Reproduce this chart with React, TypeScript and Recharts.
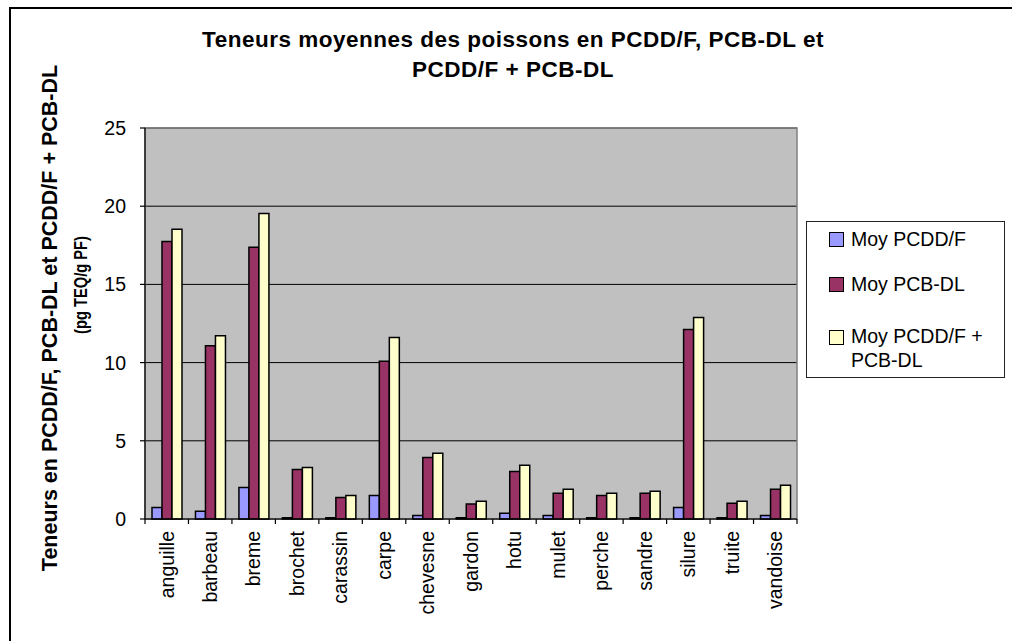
import {
  Bar,
  BarChart,
  CartesianGrid,
  Legend,
  ReferenceArea,
  XAxis,
  YAxis,
} from "recharts";

const categories = [
  "anguille",
  "barbeau",
  "breme",
  "brochet",
  "carassin",
  "carpe",
  "chevesne",
  "gardon",
  "hotu",
  "mulet",
  "perche",
  "sandre",
  "silure",
  "truite",
  "vandoise",
];
const moyPcdd = [0.74, 0.49, 2.02, 0.08, 0.08, 1.51, 0.23, 0.08, 0.36, 0.23, 0.08, 0.08, 0.74, 0.08, 0.23];
const moyPcb = [17.75, 11.08, 17.37, 3.17, 1.38, 10.08, 3.94, 0.96, 3.04, 1.64, 1.51, 1.64, 12.12, 1.0, 1.9];
const moyTotal = [18.52, 11.72, 19.54, 3.3, 1.51, 11.6, 4.2, 1.13, 3.43, 1.9, 1.64, 1.77, 12.89, 1.13, 2.15];
const yTicks = [0, 5, 10, 15, 20, 25];

const seriesNames = ["Moy PCDD/F", "Moy PCB-DL", "Moy PCDD/F + PCB-DL"];
const seriesColors = ["#9999FF", "#993366", "#FFFFCC"];

const data = categories.map((name, i) => ({
  name,
  pcdd: moyPcdd[i],
  pcb: moyPcb[i],
  total: moyTotal[i],
}));

const FONT = '"Liberation Sans", Arial, sans-serif';

function CategoryTick(props: any) {
  const { x, y, payload, index, visibleTicksCount } = props;
  const half = payload?.offset ?? 21.7;
  return (
    <g>
      <line x1={x - half} x2={x - half} y1={y} y2={y + 5} stroke="#000" strokeWidth={1.2} />
      {index === visibleTicksCount - 1 && (
        <line x1={x + half} x2={x + half} y1={y} y2={y + 5} stroke="#000" strokeWidth={1.2} />
      )}
      <text
        x={x}
        y={y + 12}
        dy="0.35em"
        textAnchor="end"
        transform={`rotate(-90, ${x}, ${y + 12})`}
        fontSize={19.5}
        fontFamily={FONT}
        fill="#000"
      >
        {payload.value}
      </text>
    </g>
  );
}

// legend rows: top offset inside the box, swatch offset
const legendRows = [
  { top: 5, sw: 5 },
  { top: 50, sw: 5 },
  { top: 102, sw: 6 },
];

function LegendBox() {
  return (
    <div
      style={{
        position: "relative",
        width: 197,
        height: 155,
        border: "1px solid #222",
        background: "#fff",
        fontFamily: FONT,
        fontSize: 19.5,
        color: "#000",
      }}
    >
      {seriesNames.map((name, i) => (
        <div key={name} style={{ position: "absolute", top: legendRows[i].top, left: 0 }}>
          <span
            style={{
              position: "absolute",
              top: legendRows[i].sw,
              left: 22,
              width: 13,
              height: 13,
              background: seriesColors[i],
              border: "1px solid #000",
            }}
          />
          <span
            style={{
              position: "absolute",
              left: 44,
              top: 0,
              width: 140,
              lineHeight: "24px",
            }}
          >
            {name}
          </span>
        </div>
      ))}
    </div>
  );
}

function AxisTitle() {
  return (
    <g fontFamily={FONT} fontWeight="bold" fill="#000">
      <text
        x={49}
        y={318}
        dy="0.35em"
        textAnchor="middle"
        fontSize={21.5}
        transform="rotate(-90, 49, 318)"
      >
        Teneurs en PCDD/F, PCB-DL et PCDD/F + PCB-DL
      </text>
      <text
        x={81}
        y={285}
        dy="0.35em"
        textAnchor="middle"
        fontSize={18.5}
        textLength={98}
        lengthAdjust="spacingAndGlyphs"
        transform="rotate(-90, 81, 285)"
      >
        (pg TEQ/g PF)
      </text>
    </g>
  );
}

export default function App() {
  return (
    <div
      style={{
        position: "fixed",
        left: 0,
        top: 0,
        width: 1012,
        height: 641,
        overflow: "hidden",
        background: "#fff",
      }}
    >
      <div
        style={{
          position: "absolute",
          left: 9,
          top: 7,
          width: 1100,
          height: 700,
          borderTop: "2px solid #000",
          borderLeft: "2px solid #000",
        }}
      />
      <div
        style={{
          position: "absolute",
          left: 113,
          top: 25,
          width: 800,
          textAlign: "center",
          fontFamily: FONT,
          fontWeight: "bold",
          fontSize: 22.5,
          letterSpacing: 0.5,
          lineHeight: "30px",
          color: "#000",
        }}
      >
        Teneurs moyennes des poissons en PCDD/F, PCB-DL et
        <br />
        PCDD/F + PCB-DL
      </div>
      <BarChart
        width={1012}
        height={641}
        data={data}
        margin={{ top: 128, right: 215, bottom: 0, left: 0 }}
        barGap={0}
        barSize={10}
        style={{ position: "absolute", left: 0, top: 0 }}
      >
        <CartesianGrid vertical={false} stroke="#000" fill="#C0C0C0" fillOpacity={1} />
        <ReferenceArea y1={0} y2={25} fill="none" stroke="#808080" strokeWidth={1.5} />
        <XAxis
          dataKey="name"
          height={122}
          interval={0}
          tickSize={0}
          tickMargin={0}
          tickLine={false}
          axisLine={{ stroke: "#000", strokeWidth: 1.2 }}
          tick={<CategoryTick />}
        />
        <YAxis
          width={145}
          domain={[0, 25]}
          ticks={yTicks}
          interval={0}
          tickSize={5}
          tickMargin={14}
          axisLine={{ stroke: "#000", strokeWidth: 1.2 }}
          tickLine={{ stroke: "#000", strokeWidth: 1.2 }}
          tick={{ fill: "#000", fontSize: 19.5, fontFamily: FONT }}
          label={AxisTitle}
        />
        <Legend
          layout="vertical"
          align="center"
          verticalAlign="middle"
          content={() => <LegendBox />}
          wrapperStyle={{ position: "absolute", left: 806, top: 221, width: 199, height: 157 }}
        />
        <Bar dataKey="pcdd" name={seriesNames[0]} fill={seriesColors[0]} stroke="#000" strokeWidth={1.5} isAnimationActive={false} />
        <Bar dataKey="pcb" name={seriesNames[1]} fill={seriesColors[1]} stroke="#000" strokeWidth={1.5} isAnimationActive={false} />
        <Bar dataKey="total" name={seriesNames[2]} fill={seriesColors[2]} stroke="#000" strokeWidth={1.5} isAnimationActive={false} />
      </BarChart>
    </div>
  );
}
